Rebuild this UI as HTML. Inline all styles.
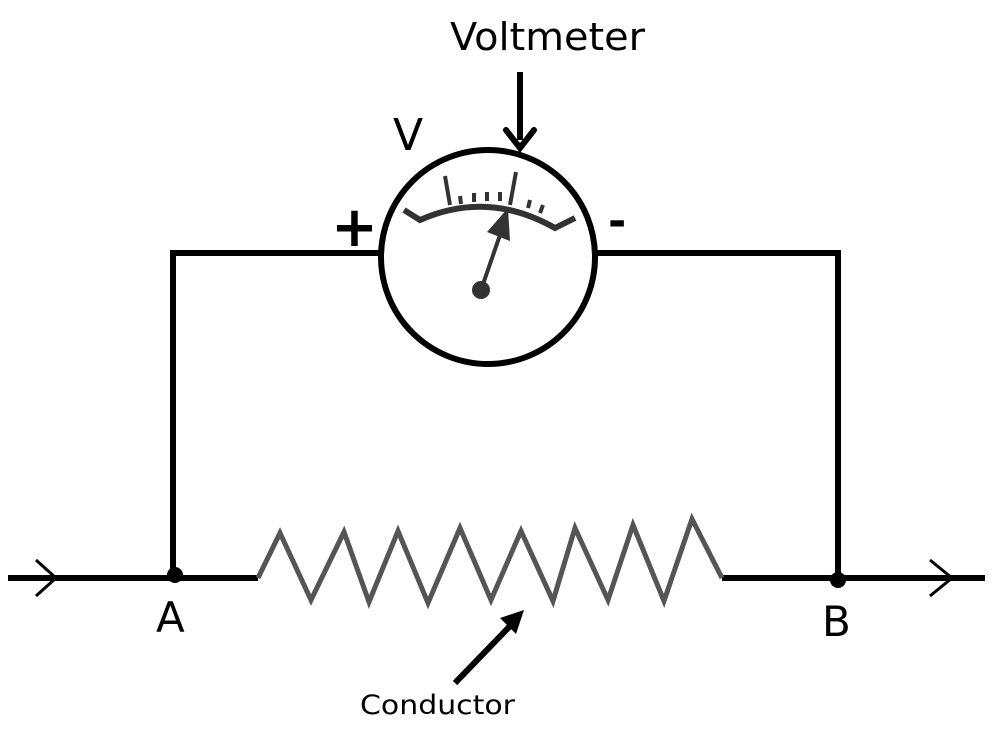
<!DOCTYPE html>
<html><head><style>body{margin:0;background:#fff}svg{display:block}</style></head><body>
<svg width="996" height="732" viewBox="0 0 996 732" xmlns="http://www.w3.org/2000/svg" font-family="'DejaVu Sans','Liberation Sans',sans-serif">
<g stroke="#000" stroke-width="6" fill="none">
<polyline points="380,253 173,253 173,578"/>
<polyline points="596,253 838,253 838,578"/>
<line x1="8" y1="578" x2="258" y2="578"/>
<line x1="722" y1="578" x2="985" y2="578"/>
<circle cx="488" cy="257" r="107"/>
<line x1="520" y1="72" x2="520" y2="140"/>
<line x1="455" y1="683" x2="512" y2="624"/>
</g>
<g stroke="#000" stroke-width="3" fill="none">
<polyline points="36,560 56,578 36,596"/>
<polyline points="930,560 952,578 930,596"/>
</g>
<polyline points="506,130 520,148 534,130" stroke="#000" stroke-width="6" fill="none" stroke-linecap="round"/>
<polygon points="524,610 500,618 516,634" fill="#000"/>
<polyline points="258,578 280,533 311,600 344,532 369,602 398,531 428,603 460,528 491,600 521,531 553,601 575,528 608,600 633,525 664,601 692,519 722,578" stroke="#555" stroke-width="5" fill="none"/>
<circle cx="175" cy="575" r="8" fill="#000"/>
<circle cx="838" cy="580" r="8" fill="#000"/>
<path d="M404,210 L420,220 Q488,190 555,228 L575,218" stroke="#333" stroke-width="6" fill="none"/>
<g stroke="#333" stroke-width="4">
<line x1="445" y1="176" x2="450" y2="205"/>
<line x1="460" y1="196" x2="461" y2="204"/>
<line x1="474" y1="193" x2="474" y2="202"/>
<line x1="487" y1="192" x2="487" y2="201"/>
<line x1="500" y1="192" x2="500" y2="201"/>
<line x1="516" y1="172" x2="510" y2="205"/>
<line x1="530" y1="200" x2="528" y2="208"/>
<line x1="543" y1="205" x2="540" y2="213"/>
</g>
<line x1="481" y1="290" x2="500" y2="235" stroke="#333" stroke-width="4"/>
<polygon points="487,232 508,208 510,241" fill="#333"/>
<circle cx="481" cy="290" r="9" fill="#333"/>
<text x="450" y="50" font-size="38" textLength="195" lengthAdjust="spacingAndGlyphs">Voltmeter</text>
<text x="393" y="150" font-size="44">V</text>
<text x="331" y="246" font-size="56" font-weight="bold">+</text>
<text x="608" y="236" font-size="44" font-weight="bold">-</text>
<text x="156" y="632" font-size="42">A</text>
<text x="822" y="636" font-size="42">B</text>
<text x="360" y="714" font-size="27" textLength="155" lengthAdjust="spacingAndGlyphs">Conductor</text>
</svg>
</body></html>
